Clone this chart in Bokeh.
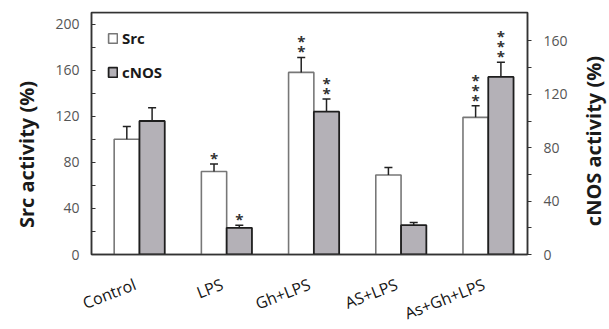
from bokeh.plotting import figure
from bokeh.models import (FactorRange, Range1d, LinearAxis, FixedTicker, ColumnDataSource,
                          Legend, LegendItem, Span, Div)
from bokeh.layouts import row
from bokeh.transform import dodge
from bokeh.core.properties import value
from bokeh.embed import file_html
from bokeh.resources import INLINE

categories = ["Control", "LPS", "Gh+LPS", "AS+LPS", "As+Gh+LPS"]
src_values = [100, 72, 158, 69, 119]
src_errors = [11, 6.5, 13, 6.5, 10]
cnos_values = [100, 20, 107, 22, 133]
cnos_errors = [10, 2, 9.5, 2, 11]
src_stars = [0, 1, 2, 0, 3]
cnos_stars = [0, 1, 2, 0, 3]
left_ticks = [0, 40, 80, 120, 160, 200]
left_minor = [20, 60, 100, 140, 180]
right_ticks = [0, 40, 80, 120, 160]
right_minor = [20, 60, 100, 140]
left_title = "Src activity (%)"
right_title = "cNOS activity (%)"

FONT = "Open Sans"
SRC_OFF = -0.095
CNOS_OFF = 0.195
BAR_W = 0.29
CAP = 0.046
FRAME_COLOR = "#333333"
Y_TOP = 210

p = figure(x_range=FactorRange(*categories, range_padding=0), y_range=Range1d(0, Y_TOP),
           frame_width=436, frame_height=242, output_backend="svg", toolbar_location=None,
           min_border_left=51, min_border_right=48, min_border_top=12, min_border_bottom=75)
p.extra_y_ranges = {"right": Range1d(0, 181.3)}
p.xgrid.visible = False
p.ygrid.visible = False
p.outline_line_color = FRAME_COLOR
p.outline_line_width = 1.5
p.background_fill_color = "white"
p.border_fill_color = "white"

def make_src(vals, errs):
    return ColumnDataSource(dict(
        cat=categories, top=vals, upper=[v + e for v, e in zip(vals, errs)]))

src_ds = make_src(src_values, src_errors)
cnos_ds = make_src(cnos_values, cnos_errors)

src_r = p.vbar(x=dodge("cat", SRC_OFF, range=p.x_range), top="top", bottom=0, width=BAR_W,
               source=src_ds, fill_color="white", line_color="#777777", line_width=1.6)
cnos_r = p.vbar(x=dodge("cat", CNOS_OFF, range=p.x_range), top="top", bottom=0, width=BAR_W,
                source=cnos_ds, fill_color="#b4b1b7", line_color="#1e1e1e", line_width=1.8,
                y_range_name="right")

for ds, off, rname in [(src_ds, SRC_OFF, "default"), (cnos_ds, CNOS_OFF, "right")]:
    p.segment(x0=dodge("cat", off, range=p.x_range), y0="top",
              x1=dodge("cat", off, range=p.x_range), y1="upper",
              source=ds, line_color="#222222", line_width=1.5, y_range_name=rname)
    p.segment(x0=dodge("cat", off - CAP, range=p.x_range), y0="upper",
              x1=dodge("cat", off + CAP, range=p.x_range), y1="upper",
              source=ds, line_color="#222222", line_width=1.5, y_range_name=rname)

def star_source(vals, errs, counts):
    cats, ys, offs = [], [], []
    for c, v, e, n in zip(categories, vals, errs, counts):
        for k in range(n):
            cats.append(c)
            ys.append(v + e)
            offs.append(-(6 + 10 * k))
    return ColumnDataSource(dict(cat=cats, y=ys, off=offs, t=["*"] * len(cats)))

for vals, errs, counts, off, rname in [(src_values, src_errors, src_stars, SRC_OFF, "default"),
                                       (cnos_values, cnos_errors, cnos_stars, CNOS_OFF, "right")]:
    p.text(x=dodge("cat", off, range=p.x_range), y="y", text="t", y_offset="off",
           source=star_source(vals, errs, counts), text_font=value(FONT),
           text_font_size="15px", text_font_style="bold", text_color="#333333",
           text_align="center", text_baseline="middle", y_range_name=rname)

# top frame line
p.add_layout(Span(location=Y_TOP, dimension="width", line_color=FRAME_COLOR, line_width=1.5))

# bottom axis
xa = p.xaxis[0]
xa.axis_line_color = FRAME_COLOR
xa.axis_line_width = 1.5
xa.major_tick_line_color = None
xa.minor_tick_line_color = None
xa.major_label_orientation = 0.37
xa.major_label_standoff = 23
xa.major_label_text_font = FONT
xa.major_label_text_font_size = "16px"
xa.major_label_text_color = "#151515"

# left axis
ya = p.yaxis[0]
ya.ticker = FixedTicker(ticks=left_ticks, minor_ticks=left_minor)
ya.axis_line_color = FRAME_COLOR
ya.axis_line_width = 1.5
ya.major_tick_in = 4
ya.major_tick_out = 0
ya.minor_tick_in = 4
ya.minor_tick_out = 0
ya.major_tick_line_color = FRAME_COLOR
ya.minor_tick_line_color = FRAME_COLOR
ya.major_label_standoff = 12
ya.major_label_text_font = FONT
ya.major_label_text_font_size = "14px"
ya.major_label_text_color = "#555555"

# right axis
ra = LinearAxis(y_range_name="right", ticker=FixedTicker(ticks=right_ticks, minor_ticks=right_minor))
ra.axis_line_color = FRAME_COLOR
ra.axis_line_width = 1.5
ra.major_tick_in = 0
ra.major_tick_out = 4
ra.minor_tick_in = 0
ra.minor_tick_out = 4
ra.major_tick_line_color = FRAME_COLOR
ra.minor_tick_line_color = FRAME_COLOR
ra.major_label_standoff = 12
ra.major_label_text_font = FONT
ra.major_label_text_font_size = "14px"
ra.major_label_text_color = "#555555"
p.add_layout(ra, "right")

legend = Legend(items=[LegendItem(label="Src", renderers=[src_r]),
                       LegendItem(label="cNOS", renderers=[cnos_r])],
                location="top_left", border_line_color=None, background_fill_alpha=0,
                label_text_font=FONT, label_text_font_style="bold", label_text_font_size="15px",
                label_text_color="#1a1a1a", glyph_width=11, glyph_height=12, label_height=20,
                label_standoff=4, spacing=14, padding=0, margin=16)
p.add_layout(legend)

# rotated axis titles (reading bottom-to-top), placed beside the plot
def side_title(text, width, left_px, top_px):
    html = ('<div style="position:absolute; left:%dpx; top:%dpx; writing-mode:vertical-rl; '
            'transform:rotate(180deg); font-family:\'Open Sans\'; font-weight:bold; '
            'font-size:20px; line-height:27px; color:#1a1a1a; white-space:nowrap;">%s</div>'
            % (left_px, top_px, text))
    return Div(text=html, width=width, height=329, margin=0, styles={"position": "relative"})

left_div = side_title(left_title, 40, 13, 81)
right_div = side_title(right_title, 34, 5, 56)

layout = row(left_div, p, right_div)
open("out.html", "w").write(file_html(layout, INLINE))
